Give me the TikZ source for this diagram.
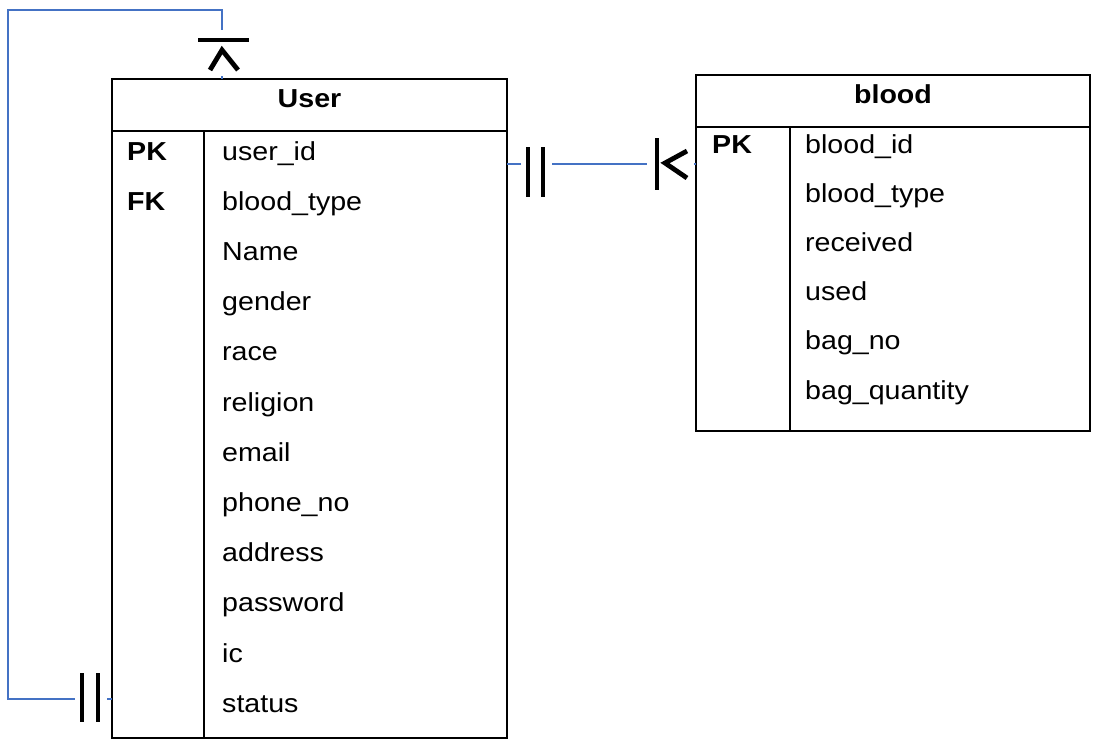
\documentclass[tikz,border=0pt]{standalone}
\usepackage{fontspec}
\setmainfont{Liberation Sans}[FakeStretch=1.1]
\usetikzlibrary{calc,positioning}
\definecolor{relblue}{RGB}{68,114,196}

\begin{document}
\begin{tikzpicture}[x=1pt,y=-1pt,
		tablebox/.style={draw,line width=1.7pt,inner sep=0pt,outer sep=0pt,
			font=\fontsize{26}{30}\selectfont\bfseries},
		headbox/.style={tablebox,minimum height=52pt,text height=19pt,text depth=14pt},
		fieldtext/.style={anchor=base west,inner sep=0pt,font=\fontsize{26}{30}\selectfont},
		keytext/.style={fieldtext,font=\fontsize{26}{30}\selectfont\bfseries},
		relline/.style={draw=relblue,line width=1.1pt},
		crowbar/.style={line width=4.8pt},
		crowgap/.style={fill=white}
		]
		\useasboundingbox (0,0) rectangle (1093,740);
		
		% User table
		\node[headbox, minimum width=395pt, anchor=north west](userhead) at (112,79){User};
		\node[tablebox, minimum width=395pt, minimum height=607pt, below=0pt of userhead](userbody){};
		\coordinate (udiv) at ($(userbody.north west)+(92,0)$);
		\draw[line width=1.7pt] (udiv) -- (udiv |- userbody.south);
		\node[keytext](ukey1) at ($(userbody.north west)+(15,29)$){PK};
		\node[keytext](ukey2) at ($(ukey1.base west)+(0,50.2)$){FK};
		\foreach \fld [count=\i] in {user\_id,blood\_type,Name,gender,race,religion,
			email,phone\_no,address,password,ic,status}
		\node[fieldtext](u\i) at ($(udiv)+(18,{29+(\i-1)*50.2})$){\fld};
		
		% blood table
		\node[headbox, minimum width=394pt, anchor=north west](bloodhead) at (696,75){blood};
		\node[tablebox, minimum width=394pt, minimum height=304pt, below=0pt of bloodhead](bloodbody){};
		\coordinate (bdiv) at ($(bloodbody.north west)+(94,0)$);
		\draw[line width=1.7pt] (bdiv) -- (bdiv |- bloodbody.south);
		\node[keytext](bkey1) at ($(bloodbody.north west)+(16,26)$){PK};
		\foreach \fld [count=\i] in {blood\_id,blood\_type,received,used,bag\_no,bag\_quantity}
		\node[fieldtext](b\i) at ($(bdiv)+(15,{26+(\i-1)*49.2})$){\fld};
		
		% self relation on User
		\coordinate (selftop) at ($(userhead.north west)+(110,0)$);
		\coordinate (selfcorner) at (8,10);
		\coordinate (selfbot) at (userbody.west |- 0,699);
		\draw[relline] (selftop) |- (selfcorner) |- (selfbot);
		\begin{scope}[shift={(selftop)}]
			\fill[crowgap] (-26,-49) rectangle (30,-3);
			\draw[crowbar] (-24,-39) -- (27,-39);
			\draw[crowbar] (-12,-9) -- (0,-29) -- (16,-9);
		\end{scope}
		\begin{scope}[shift={(selfbot)}]
			\fill[crowgap] (-37,-28) rectangle (-5,25);
			\draw[crowbar] (-30,-26) -- (-30,23);
			\draw[crowbar] (-14,-26) -- (-14,23);
		\end{scope}
		
		% User -- blood
		\coordinate (relA) at (userbody.east |- 0,164);
		\coordinate (relB) at (bloodbody.west |- relA);
		\draw[relline] (relA) -- (relB);
		\begin{scope}[shift={(relA)}]
			\fill[crowgap] (14,-20) rectangle (45,36);
			\draw[crowbar] (21,-17) -- (21,33);
			\draw[crowbar] (36,-17) -- (36,33);
		\end{scope}
		\begin{scope}[shift={(relB)}]
			\fill[crowgap] (-49,-28) rectangle (-2,28);
			\draw[crowbar] (-39,-26) -- (-39,26);
			\draw[crowbar] (-9,-13) -- (-31,-1) -- (-9,14);
		\end{scope}
	\end{tikzpicture}
\end{document}
